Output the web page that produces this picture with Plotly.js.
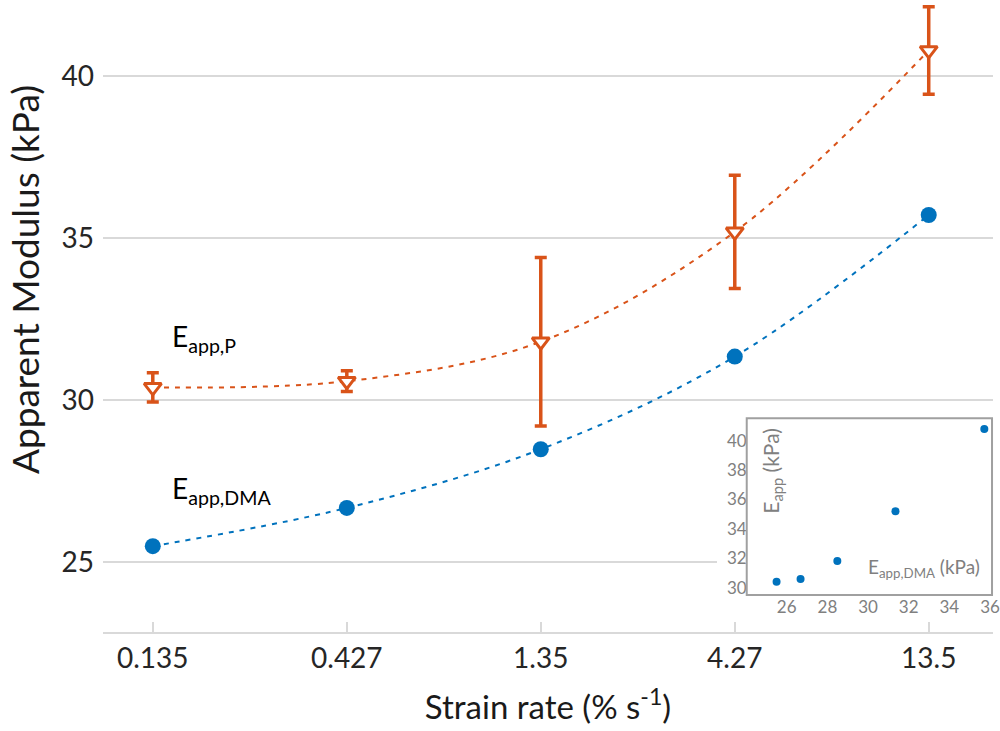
<!DOCTYPE html>
<html>
<head>
<meta charset="utf-8">
<script src="https://cdn.plot.ly/plotly-3.0.1.min.js"></script>
<style>html,body{margin:0;padding:0;background:#fff;}#chart{width:1000px;height:731px;}</style>
</head>
<body>
<div id="chart"></div>
<script>
// ---- data ----
var strainRate = [0.135, 0.427, 1.35, 4.27, 13.5];
var strainTickLabels = ['0.135', '0.427', '1.35', '4.27', '13.5'];
var eAppP = [30.40, 30.59, 31.81, 35.20, 40.80];
var eAppPErr = [0.45, 0.32, 2.60, 1.75, 1.35];
var eAppDMA = [25.50, 26.68, 28.49, 31.35, 35.72];
var mainYTicks = [25, 30, 35, 40];
var insetXTicks = [26, 28, 30, 32, 34, 36];
var insetYTicks = [30, 32, 34, 36, 38, 40];

var ORANGE = '#D95319';
var BLUE = '#0072BD';
var GRID = '#d9d9d9';
var FONT = 'Lato, "Open Sans", sans-serif';

var traces = [
  { x: strainRate, y: eAppP, type: 'scatter', mode: 'lines', xaxis: 'x', yaxis: 'y',
    line: { color: ORANGE, width: 2, dash: '5px,6px', shape: 'spline' }, hoverinfo: 'skip', showlegend: false },
  { x: strainRate, y: eAppDMA, type: 'scatter', mode: 'lines', xaxis: 'x', yaxis: 'y',
    line: { color: BLUE, width: 2, dash: '5px,6px', shape: 'spline' }, hoverinfo: 'skip', showlegend: false },
  { x: strainRate, y: eAppP, type: 'scatter', mode: 'markers', xaxis: 'x', yaxis: 'y', name: 'E_app,P',
    error_y: { type: 'data', array: eAppPErr, visible: true, color: ORANGE, thickness: 3.5, width: 6 },
    marker: { symbol: 'triangle-down', size: 15, color: '#ffffff', line: { color: ORANGE, width: 3 } },
    cliponaxis: false, showlegend: false },
  { x: strainRate, y: eAppDMA, type: 'scatter', mode: 'markers', xaxis: 'x', yaxis: 'y', name: 'E_app,DMA',
    marker: { symbol: 'circle', size: 16, color: BLUE }, cliponaxis: false, showlegend: false },
  { x: eAppDMA, y: eAppP, type: 'scatter', mode: 'markers', xaxis: 'x2', yaxis: 'y2', name: 'inset',
    marker: { symbol: 'circle', size: 8, color: BLUE }, showlegend: false }
];

var layout = {
  width: 1000, height: 731,
  margin: { l: 103, r: 7, t: 0, b: 99 },
  paper_bgcolor: '#ffffff', plot_bgcolor: '#ffffff',
  font: { family: FONT, color: '#262626' },
  showlegend: false,
  xaxis: {
    type: 'log', range: [-0.998, 1.296],
    tickmode: 'array', tickvals: strainRate, ticktext: strainTickLabels,
    ticks: 'inside', ticklen: 10, tickwidth: 2, tickcolor: GRID,
    showline: true, linecolor: GRID, linewidth: 2,
    showgrid: false, zeroline: false,
    tickfont: { family: FONT, size: 28, color: '#262626' },
    title: { text: 'Strain rate (% s<sup>-1</sup>)', font: { family: FONT, size: 33, color: '#1a1a1a' }, standoff: 23 }
  },
  yaxis: {
    range: [22.85, 42.355],
    tickmode: 'array', tickvals: mainYTicks,
    showgrid: true, gridcolor: GRID, gridwidth: 2,
    showline: false, zeroline: false, ticks: '',
    tickfont: { family: FONT, size: 28, color: '#262626' },
    ticklabelstandoff: 8
  },
  xaxis2: {
    domain: [0.6899, 0.9989], anchor: 'y2', range: [22.57, 36.10],
    tickmode: 'array', tickvals: insetXTicks,
    showgrid: false, zeroline: false, showline: false, ticks: '',
    tickfont: { family: FONT, size: 17, color: '#808080' }
  },
  yaxis2: {
    domain: [0.0585, 0.3381], anchor: 'free', position: 0.7233, range: [29.50, 41.52],
    tickmode: 'array', tickvals: insetYTicks,
    showgrid: false, zeroline: false, showline: false, ticks: '',
    tickfont: { family: FONT, size: 17, color: '#808080' }
  },
  shapes: [
    { type: 'rect', xref: 'paper', yref: 'paper', x0: 0.7233, x1: 0.9989, y0: 0.0585, y1: 0.3381,
      line: { color: '#a0a0a0', width: 2 }, fillcolor: 'rgba(0,0,0,0)', layer: 'above' }
  ],
  annotations: [
    { text: 'Apparent Modulus (kPa)', xref: 'paper', yref: 'paper', x: -0.0888, y: 0.5585,
      textangle: -90, showarrow: false, xanchor: 'center', yanchor: 'middle',
      font: { family: FONT, size: 37, color: '#1a1a1a' } },
    { text: 'E<sub>app,P</sub>', xref: 'paper', yref: 'paper', x: 0.0753, y: 0.465,
      showarrow: false, xanchor: 'left', yanchor: 'middle',
      font: { family: FONT, size: 28, color: '#000000' } },
    { text: 'E<sub>app,DMA</sub>', xref: 'paper', yref: 'paper', x: 0.0753, y: 0.2247,
      showarrow: false, xanchor: 'left', yanchor: 'middle',
      font: { family: FONT, size: 28, color: '#000000' } },
    { text: 'E<sub>app</sub> (kPa)', xref: 'paper', yref: 'paper', x: 0.7513, y: 0.2547,
      textangle: -90, showarrow: false, xanchor: 'center', yanchor: 'middle',
      font: { family: FONT, size: 21, color: '#808080' } },
    { text: 'E<sub>app,DMA</sub> (kPa)', xref: 'paper', yref: 'paper', x: 0.9873, y: 0.1013,
      showarrow: false, xanchor: 'right', yanchor: 'middle',
      font: { family: FONT, size: 19, color: '#808080' } }
  ]
};

Plotly.newPlot('chart', traces, layout, { displayModeBar: false, staticPlot: true });
</script>
</body>
</html>
